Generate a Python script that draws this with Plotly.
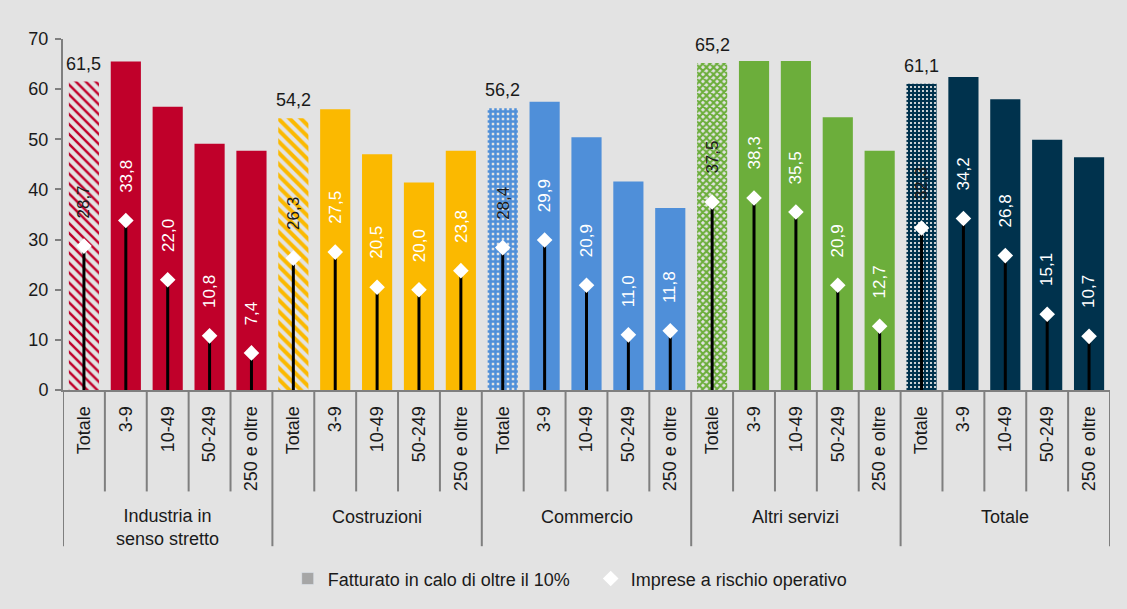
import plotly.graph_objects as go

# ---- data ----
sectors = ["Industria in<br>senso stretto", "Costruzioni", "Commercio", "Altri servizi", "Totale"]
sizes = ["Totale", "3-9", "10-49", "50-249", "250 e oltre"]

fatturato_industria = [61.5, 65.5, 56.5, 49.1, 47.7]
fatturato_costruzioni = [54.2, 56.0, 47.0, 41.4, 47.7]
fatturato_commercio = [56.2, 57.5, 50.4, 41.6, 36.3]
fatturato_altri = [65.2, 65.6, 65.6, 54.4, 47.7]
fatturato_totale = [61.1, 62.4, 58.0, 49.9, 46.4]

rischio_industria = [28.7, 33.8, 22.0, 10.8, 7.4]
rischio_costruzioni = [26.3, 27.5, 20.5, 20.0, 23.8]
rischio_commercio = [28.4, 29.9, 20.9, 11.0, 11.8]
rischio_altri = [37.5, 38.3, 35.5, 20.9, 12.7]
rischio_totale = [32.3, 34.2, 26.8, 15.1, 10.7]

sector_colors = ["#C0002A", "#FBB900", "#4F8FD9", "#6CAE3B", "#00324D"]
total_patterns = ["\\", "\\", "+", "x", "+"]

fatturato = (fatturato_industria + fatturato_costruzioni + fatturato_commercio
             + fatturato_altri + fatturato_totale)
rischio = (rischio_industria + rischio_costruzioni + rischio_commercio
           + rischio_altri + rischio_totale)

n_sizes = len(sizes)
xs = list(range(len(sectors) * n_sizes))
ticktext = sizes * len(sectors)

pattern_style = {  # sector index -> (size, solidity)
    0: (7, 0.35), 1: (8, 0.5), 2: (5, 0.75), 3: (5, 0.65), 4: (4, 0.8),
}

colors, p_shape, p_fg, p_bg, p_size, p_sol = [], [], [], [], [], []
for s, col in enumerate(sector_colors):
    for k in range(n_sizes):
        colors.append(col)
        if k == 0:
            sz, so = pattern_style[s]
            p_shape.append(total_patterns[s]); p_fg.append(col); p_bg.append("white")
            p_size.append(sz); p_sol.append(so)
        else:
            p_shape.append(""); p_fg.append(col); p_bg.append(col); p_size.append(8); p_sol.append(0.5)

FONT = "Liberation Sans, Arial, sans-serif"
fig = go.Figure()

fig.add_trace(go.Bar(
    x=xs, y=fatturato, width=0.72, showlegend=False,
    marker=dict(color=colors, line=dict(width=0),
                pattern=dict(shape=p_shape, fgcolor=p_fg, bgcolor=p_bg,
                             size=p_size, solidity=p_sol, fillmode="replace")),
    hoverinfo="skip",
))

# legend-only entry for the bars
fig.add_trace(go.Bar(x=[None], y=[None], name="Fatturato in calo di oltre il 10%",
                     marker=dict(color="#A6A6A6")))

# stems
sx, sy = [], []
for x, v in zip(xs, rischio):
    sx += [x, x, None]
    sy += [0, v, None]
fig.add_trace(go.Scatter(x=sx, y=sy, mode="lines", showlegend=False,
                         line=dict(color="black", width=3), hoverinfo="skip"))

fig.add_trace(go.Scatter(x=xs, y=rischio, mode="markers", name="Imprese a rischio operativo",
                         marker=dict(symbol="diamond", size=12, color="white",
                                     line=dict(width=0))))

annotations = []
for i, (x, v, b) in enumerate(zip(xs, rischio, fatturato)):
    is_tot = (i % n_sizes == 0)
    annotations.append(dict(
        x=x, y=v, xref="x", yref="y", text=f"{v:.1f}".replace(".", ","),
        textangle=-90, showarrow=False, yanchor="bottom", xanchor="center", yshift=26,
        font=dict(family=FONT, size=17, color="#1A1A1A" if is_tot else "white")))
    if is_tot:
        annotations.append(dict(
            x=x, y=b, xref="x", yref="y", text=f"{b:.1f}".replace(".", ","),
            showarrow=False, yanchor="bottom", xanchor="center", yshift=6,
            font=dict(family=FONT, size=18, color="#1A1A1A")))

for s, name in enumerate(sectors):
    two = "<br>" in name
    annotations.append(dict(
        x=s * n_sizes + (n_sizes - 1) / 2, y=-0.393 if two else -0.363,
        xref="x", yref="paper", text=name, showarrow=False,
        yanchor="middle", xanchor="center",
        font=dict(family=FONT, size=18, color="#1A1A1A")))

shapes = []
for j in range(len(xs) + 1):
    long = (j % n_sizes == 0)
    shapes.append(dict(type="line", xref="x", yref="paper",
                       x0=j - 0.5, x1=j - 0.5, y0=0, y1=-0.445 if long else -0.289,
                       line=dict(color="#7F7F7F", width=2)))

fig.update_layout(
    width=1127, height=609,
    paper_bgcolor="#E3E3E3", plot_bgcolor="#E3E3E3",
    margin=dict(l=63, r=17, t=39, b=217),
    barmode="overlay",
    font=dict(family=FONT, size=18, color="#1A1A1A"),
    annotations=annotations, shapes=shapes,
    legend=dict(orientation="h", x=0.504, xanchor="center", y=-0.538, yanchor="middle",
                font=dict(size=18), bgcolor="rgba(0,0,0,0)", itemwidth=30,
                entrywidth=258, traceorder="normal"),
    xaxis=dict(range=[-0.5, len(xs) - 0.5], tickvals=xs, ticktext=ticktext,
               tickangle=-90, showgrid=False, zeroline=False, ticks="",
               showline=True, linecolor="#7F7F7F", linewidth=2,
               tickfont=dict(size=18), ticklabelstandoff=7),
    yaxis=dict(range=[0, 70], dtick=10, showgrid=False, zeroline=False,
               showline=True, linecolor="#7F7F7F", linewidth=2,
               ticks="outside", ticklen=6, tickcolor="#7F7F7F", tickwidth=2,
               tickfont=dict(size=18), ticklabelstandoff=3),
)

fig.write_html("out.html", config={"displayModeBar": False},
               post_script="document.body.style.margin='0';"
                           "document.body.style.background='#E3E3E3';")
